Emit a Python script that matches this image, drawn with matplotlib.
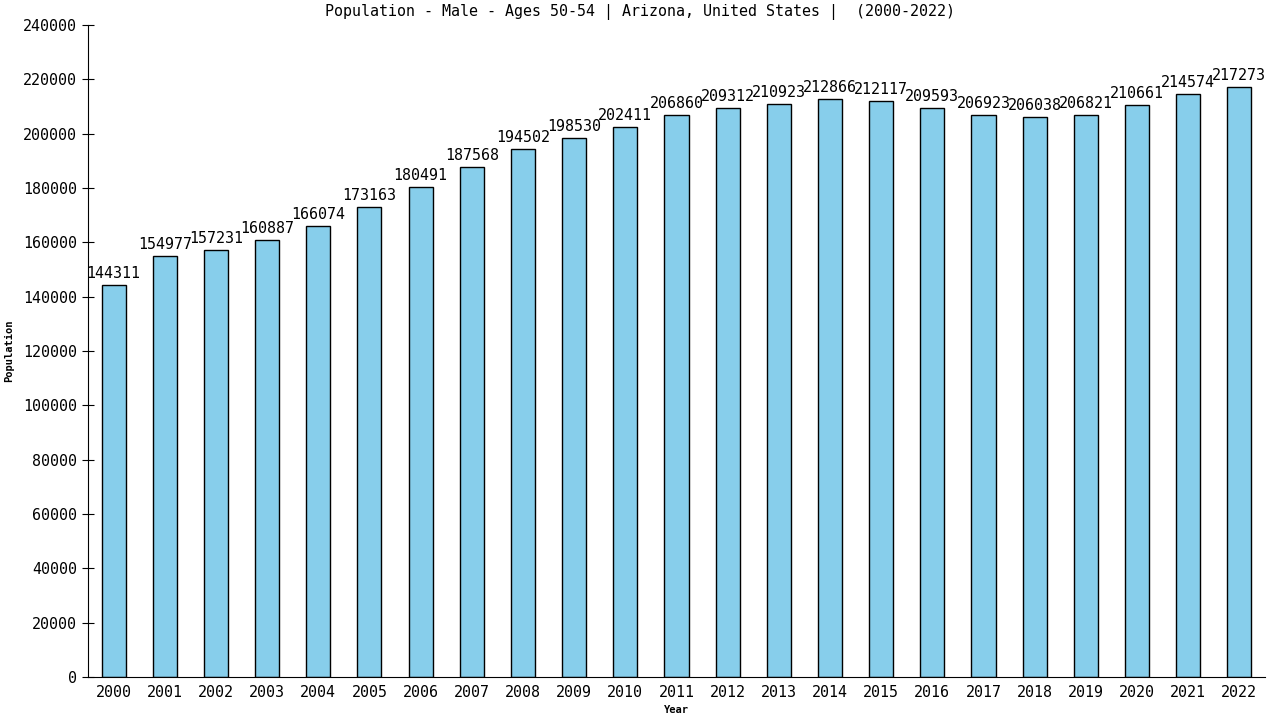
import numpy as np
import matplotlib
matplotlib.use("Agg")
import matplotlib.pyplot as plt

years = ["2000", "2001", "2002", "2003", "2004", "2005", "2006", "2007", "2008",
         "2009", "2010", "2011", "2012", "2013", "2014", "2015", "2016", "2017",
         "2018", "2019", "2020", "2021", "2022"]
population = [144311, 154977, 157231, 160887, 166074, 173163, 180491, 187568,
              194502, 198530, 202411, 206860, 209312, 210923, 212866, 212117,
              209593, 206923, 206038, 206821, 210661, 214574, 217273]
yticks = np.arange(0, 240001, 20000)

plt.rcParams['font.family'] = ['DejaVu Sans Mono']

fig = plt.figure(figsize=(12.8, 7.2), dpi=100)
ax = fig.add_axes([0.06875, 0.0597, 0.9195, 0.9055])

x = np.arange(len(years))
ax.bar(x, population, width=0.47, color="#87CEEB", edgecolor="black", linewidth=1)

# value labels on top of each bar
for xi, v in zip(x, population):
    ax.text(xi, v + 1500, str(v), ha="center", va="bottom", fontsize=10.8)

ax.set_xlim(-0.5, 22.5)
ax.set_ylim(0, 240000)
ax.set_xticks(x)
ax.set_xticklabels(years, fontsize=10.8)
ax.set_yticks(yticks)
ax.set_yticklabels([str(t) for t in yticks], fontsize=10.8)

ax.spines["top"].set_visible(False)
ax.spines["right"].set_visible(False)
ax.tick_params(axis="x", length=0, pad=6)
ax.tick_params(axis="y", direction="inout", length=8, pad=4)

ax.set_xlabel("Year", fontsize=7.5, fontweight="bold", labelpad=3)
ax.set_ylabel("Population", fontsize=7.5, fontweight="bold", labelpad=6)
fig.suptitle("Population - Male - Ages 50-54 | Arizona, United States |  (2000-2022)",
             x=0.5, y=0.995, fontsize=10.8)

plt.savefig("out.png", dpi=100)
